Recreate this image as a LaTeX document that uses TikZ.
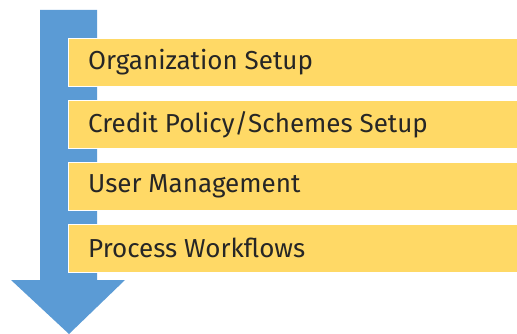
\documentclass[tikz,border=0pt]{standalone}
\usepackage{fontspec}
\setmainfont{Fira Sans}
\definecolor{arrowblue}{HTML}{5B9BD5}
\definecolor{boxyellow}{HTML}{FFD966}
\definecolor{txt}{HTML}{262626}
\begin{document}
\begin{tikzpicture}[x=1pt,y=-1pt,
  stepbox/.style={fill=boxyellow,draw=white,line width=0.8pt,minimum width=449pt,minimum height=48pt,anchor=north west,inner sep=0pt},
  steplabel/.style={anchor=west,text=txt,font=\fontsize{26}{30}\selectfont,inner sep=0pt}]
\useasboundingbox (0,0) rectangle (517,334);
\fill[arrowblue] (40,10) -- (97,10) -- (97,280) -- (125,280) -- (69,334) -- (11,280) -- (40,280) -- cycle;
\node[stepbox] (b1) at (68,38) {};
\node[stepbox] (b2) at (68,100) {};
\node[stepbox] (b3) at (68,162) {};
\node[stepbox] (b4) at (68,224) {};
\node[steplabel] (t1) at ([xshift=20pt]b1.west) {Organization Setup};
\node[steplabel] (t2) at ([xshift=20pt]b2.west) {Credit Policy/Schemes Setup};
\node[steplabel] (t3) at ([xshift=20pt]b3.west) {User Management};
\node[steplabel] (t4) at ([xshift=20pt]b4.west) {Process Workflows};
\end{tikzpicture}
\end{document}
